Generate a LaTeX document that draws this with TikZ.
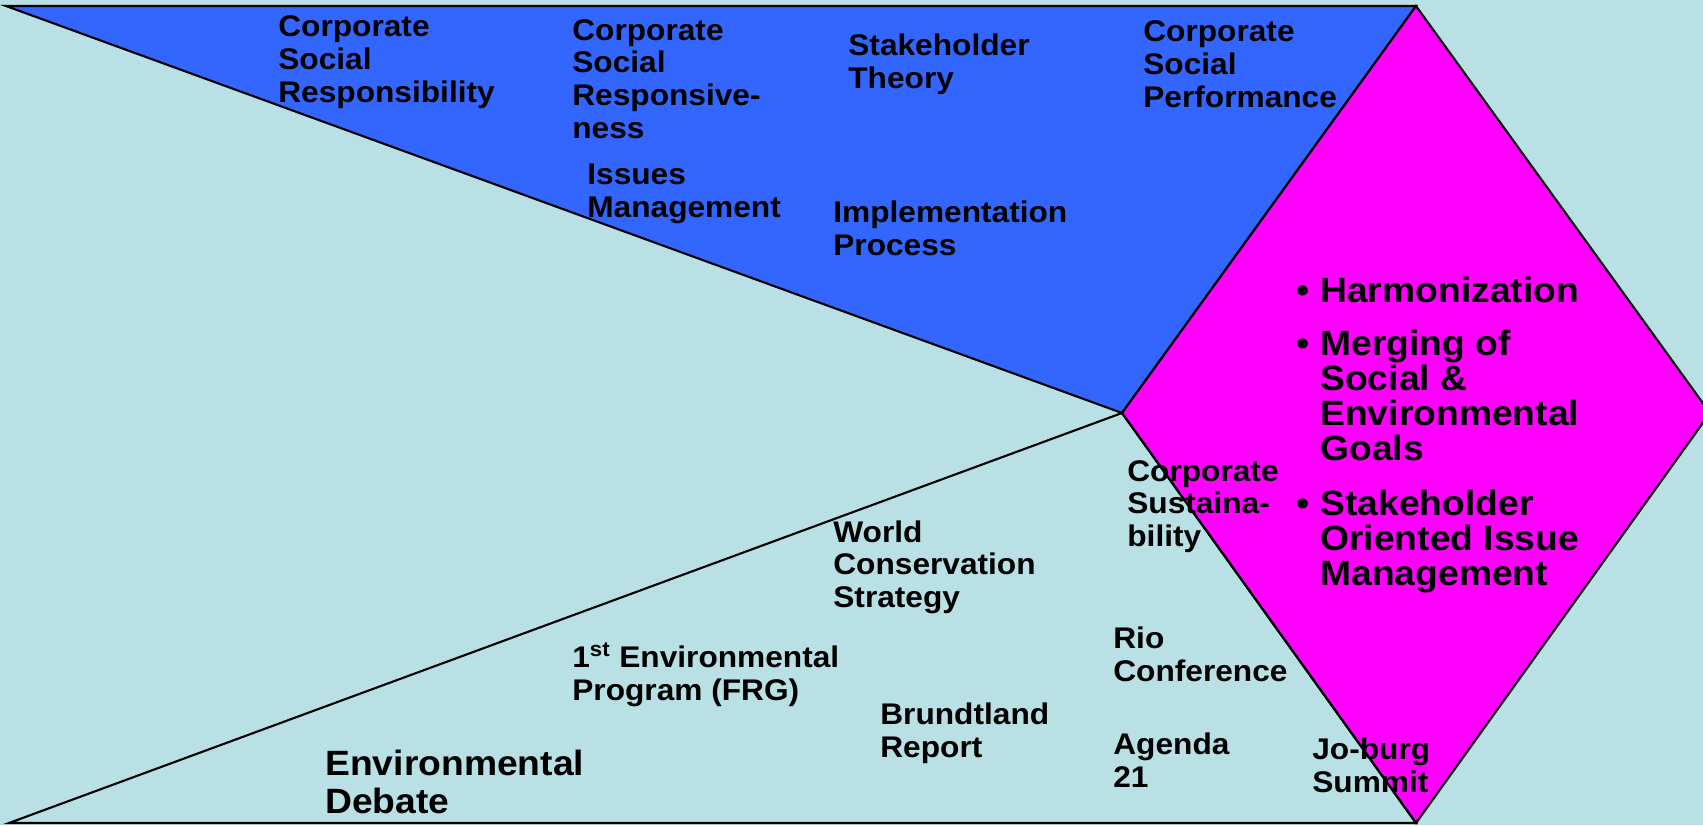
\documentclass[tikz,border=0pt]{standalone}
\usepackage{fontspec}
\setmainfont{Liberation Sans}[FakeStretch=1.06]
\usepackage{xcolor}
\usetikzlibrary{positioning}

\definecolor{bgcyan}{RGB}{185,224,228}
\definecolor{csrblue}{RGB}{51,102,255}
\definecolor{goalmagenta}{RGB}{255,0,255}

\newcommand\lblsize{\fontsize{17}{18.5}\selectfont}
\newcommand\itemsize{\fontsize{20}{19.9}\selectfont}
\newcommand\debsize{\fontsize{20}{21.6}\selectfont}

\begin{document}
\begin{tikzpicture}[
  x=0.02cm, y=-0.02cm,
  edge/.style={draw=black, line width=1.2pt, line join=miter},
  % nodes sit on the baseline of their last line
  lbl/.style={font=\lblsize\bfseries, align=left, anchor=base west, inner sep=0pt},
  goal/.style={lbl, font=\itemsize\bfseries},
  debate/.style={lbl, font=\debsize\bfseries}
]
\fill[bgcyan] (0,0) rectangle (1703,825);
\clip (0,0) rectangle (1703,825);
% corners of the wedges and of the diamond
\coordinate (tl) at (6,6);
\coordinate (bl) at (9,823);
\coordinate (top) at (1416,6);
\coordinate (mid) at (1122,413);
\coordinate (rgt) at (1710,413);
\coordinate (bot) at (1416,823);
\draw[edge, fill=csrblue] (tl) -- (top) -- (mid) -- cycle;
\draw[edge, fill=goalmagenta] (top) -- (rgt) -- (bot) -- (mid) -- cycle;
\draw[edge] (bl) -- (mid) -- (bot) -- cycle;

% social strand
\node[lbl] (csr) at (278,102) {Corporate\\Social\\Responsibility};
\node[lbl] (resp) at (572,138) {Corporate\\Social\\Responsive-\\ness};
\node[lbl] (issues) at (587,217) {Issues\\Management};
\node[lbl] (stake) at (848,88) {Stakeholder\\Theory};
\node[lbl] (impl) at (833,255) {Implementation\\Process};
\node[lbl] (perf) at (1143,107) {Corporate\\Social\\Performance};

% environmental strand
\node[debate] (envdeb) at (325,813) {Environmental\\Debate};
\node[lbl] (frg) at (572,700) {1\textsuperscript{st} Environmental\\Program (FRG)};
\node[lbl] (wcs) at (833,607) {World\\Conservation\\Strategy};
\node[lbl] (brundt) at (880,757) {Brundtland\\Report};
\node[lbl] (rio) at (1113,681) {Rio\\Conference};
\node[lbl] (agenda) at (1113,787) {Agenda\\21};
\node[lbl] (joburg) at (1312,792) {Jo-burg\\Summit};
\node[lbl] (sust) at (1127,546) {Corporate\\Sustaina-\\bility};

% merged goals
\node[goal] (harm) at (1320,302) {\llap{\textbullet\hspace{6pt}}Harmonization};
\node[goal] (merge) at (1320,460) {\llap{\textbullet\hspace{6pt}}Merging of\\Social \&\\Environmental\\Goals};
\node[goal] (issue) at (1320,585) {\llap{\textbullet\hspace{6pt}}Stakeholder\\Oriented Issue\\Management};
\end{tikzpicture}
\end{document}
